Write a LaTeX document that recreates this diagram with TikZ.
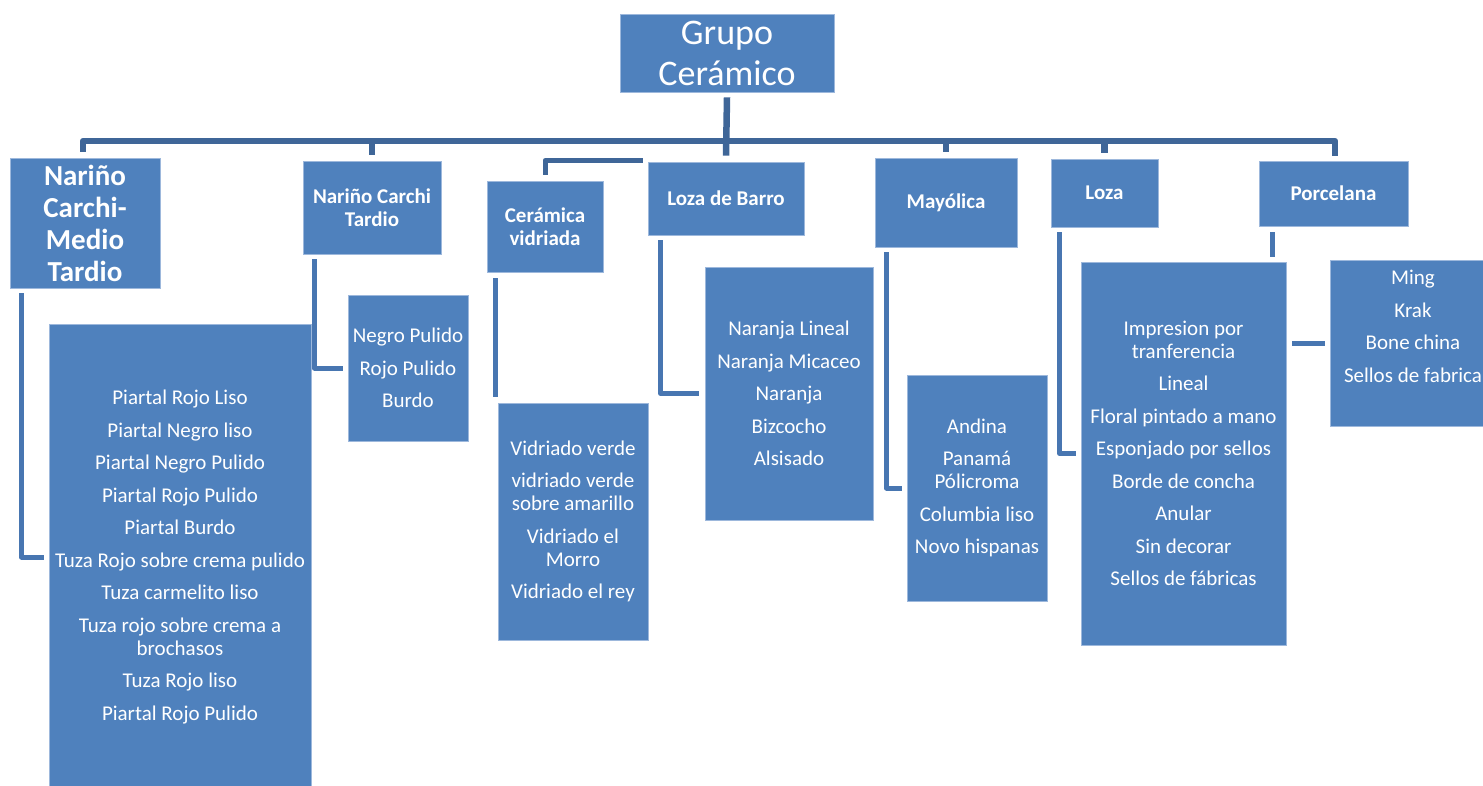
\documentclass[tikz,border=0pt]{standalone}
\usepackage{fontspec}
\setmainfont{Carlito}
\usetikzlibrary{calc}
\definecolor{boxblue}{HTML}{4F81BD}
\definecolor{boxedge}{HTML}{9DB8DC}
\definecolor{busblue}{HTML}{3F6698}
\definecolor{connblue}{HTML}{4876B1}
\tikzset{
  box/.style={rectangle, fill=boxblue, draw=boxedge, line width=0.8pt, text=white, align=center, inner sep=2pt},
  hdr/.style={box, font=\fontsize{21}{23}\selectfont\bfseries},
  lst/.style={box, font=\fontsize{21}{23}\selectfont},
  txt/.style={text=white, align=center, inner sep=0pt, font=\fontsize{21}{23}\selectfont},
  busline/.style={draw=busblue, line width=6.5pt, line join=round},
  conn/.style={draw=connblue, line width=5pt, line join=round},
}
\begin{document}
\begin{tikzpicture}[x=1pt,y=-1pt]
\useasboundingbox (0,0) rectangle (1483,785);
\clip (0,0) rectangle (1483,785);
% header row
\node[box, minimum width=214pt, minimum height=78pt, font=\fontsize{36}{41}\selectfont] (top) at (727,53) {Grupo\\Cerámico};
\node[box, minimum width=150pt, minimum height=130pt, font=\fontsize{29}{32}\selectfont\bfseries] (n1) at (85,223) {Nariño\\Carchi-\\Medio\\Tardio};
\node[hdr, minimum width=138pt, minimum height=93pt] (n2) at (372,207.5) {Nariño Carchi\\Tardio};
\node[hdr, minimum width=116pt, minimum height=91pt] (cv) at (545,226.5) {Cerámica\\vidriada};
\node[hdr, minimum width=156pt, minimum height=73pt] (lb) at (726,198.5) {Loza de Barro};
\node[hdr, minimum width=142pt, minimum height=89pt] (may) at (946,202.5) {Mayólica};
\node[hdr, minimum width=107pt, minimum height=68pt] (loza) at (1104.5,193) {Loza};
\node[hdr, minimum width=149pt, minimum height=65pt] (porc) at (1333.5,193.5) {Porcelana};
% lists
\node[lst, minimum width=262pt, minimum height=466pt] (A) at (180,557) {Piartal Rojo Liso\\[9.5pt]Piartal Negro liso\\[9.5pt]Piartal Negro Pulido\\[9.5pt]Piartal Rojo Pulido\\[9.5pt]Piartal Burdo\\[9.5pt]Tuza Rojo sobre crema pulido\\[9.5pt]Tuza carmelito liso\\[9.5pt]Tuza rojo sobre crema a\\brochasos\\[9.5pt]Tuza Rojo liso\\[9.5pt]Piartal Rojo Pulido};
\node[lst, minimum width=120pt, minimum height=146pt] (B) at (408,368) {Negro Pulido\\[9.5pt]Rojo Pulido\\[9.5pt]Burdo};
\node[lst, minimum width=150pt, minimum height=237pt] (C) at (573,521.5) {Vidriado verde\\[9.5pt]vidriado verde\\sobre amarillo\\[9.5pt]Vidriado el\\Morro\\[9.5pt]Vidriado el rey};
\node[lst, minimum width=168pt, minimum height=253pt] (D) at (789,393.5) {Naranja Lineal\\[9.5pt]Naranja Micaceo\\[9.5pt]Naranja\\[9.5pt]Bizcocho\\[9.5pt]Alsisado};
\node[lst, minimum width=140pt, minimum height=226pt] (E) at (977,488) {Andina\\[9.5pt]Panamá\\Pólicroma\\[9.5pt]Columbia liso\\[9.5pt]Novo hispanas};
\node[lst, minimum width=205pt, minimum height=383pt] (F) at (1183.5,453.5) {Impresion por\\tranferencia\\[9.5pt]Lineal\\[9.5pt]Floral pintado a mano\\[9.5pt]Esponjado por sellos\\[9.5pt]Borde de concha\\[9.5pt]Anular\\[9.5pt]Sin decorar\\[9.5pt]Sellos de fábricas};
\node[box, minimum width=166pt, minimum height=166pt] (G) at (1413,343) {};
\node[txt] (Gt) at ($(G.center)+(0,-16.5)$) {Ming\\[9.5pt]Krak\\[9.5pt]Bone china\\[9.5pt]Sellos de fabrica};
% bus
\coordinate (busy) at (0,141);
\draw[busline] ($(top.south)+(0,5)$) -- ($(lb.north)+(0,-6)$);
\coordinate (b1) at ($(n1.north)+(-2,-6)$);
\coordinate (b7) at ($(porc.north)+(1.5,-5)$);
\draw[busline] (b1) -- (b1 |- busy) -- (b7 |- busy) -- (b7);
\draw[busline] (n2.north |- busy) -- ($(n2.north)+(0,-6)$);
\draw[busline] (may.north |- busy) -- ($(may.north)+(0,-6)$);
\draw[busline] (loza.north |- busy) -- ($(loza.north)+(0,-6)$);
% ceramica vidriada elbow
\coordinate (cvA) at ($(cv.north)+(0,-6)$);
\coordinate (cvB) at ($(lb.north west)+(-5,-1)$);
\draw[busline, line width=5pt] (cvB) -- (cvA |- cvB) -- (cvA);
% child connectors
\draw[conn] ($(n1.south west)+(12,5)$) |- ($(A.west)+(-5,0)$);
\draw[conn] ($(n2.south west)+(12,5)$) |- ($(B.west)+(-5,0)$);
\coordinate (cvC) at ($(cv.south west)+(9,6)$);
\draw[conn] (cvC) -- ($(cvC |- C.north)+(0,-6)$);
\draw[conn] ($(lb.south west)+(13,5)$) |- ($(D.west)+(-6,0)$);
\draw[conn] ($(may.south west)+(12,5)$) |- ($(E.west)+(-5,0)$);
\draw[conn] ($(loza.south west)+(9,5)$) |- ($(F.west)+(-5,0)$);
\coordinate (pc) at ($(F.north east)+(-14,0)$);
\draw[conn] (pc |- porc.south) ++(0,6) -- ($(pc)+(0,-5)$);
\draw[conn] ($(F.east |- G.west)+(6,0)$) -- ($(G.west)+(-5,0)$);
\end{tikzpicture}
\end{document}
